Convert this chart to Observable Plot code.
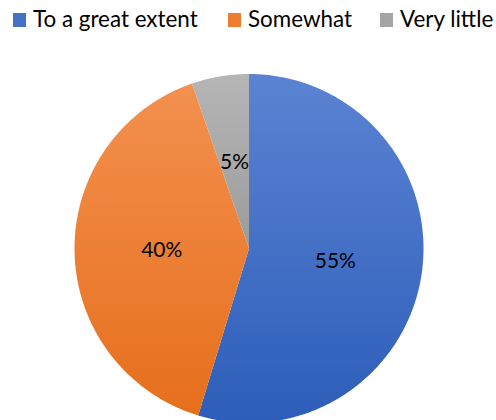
<!DOCTYPE html>
<html><head><meta charset="utf-8">
<script src="https://cdn.jsdelivr.net/npm/d3@7"></script>
<script src="https://cdn.jsdelivr.net/npm/@observablehq/plot@0.6"></script>
<style>
html,body{margin:0;padding:0;background:#fff;}
body{width:496px;height:420px;overflow:hidden;font-family:Lato,"Open Sans",sans-serif;}
#legend{position:relative;height:38px;width:496px;}
.sw{position:absolute;top:13px;width:13px;height:14px;}
.lt{position:absolute;top:8px;font-size:22.4px;line-height:22.4px;color:#000;white-space:nowrap;}
#chart svg{display:block;}
</style>
</head><body>
<div id="legend"></div>
<div id="chart"></div>
<script>
const categories = ["To a great extent", "Somewhat", "Very little"];
const values = [54.7, 40, 5.3];
const labels = ["55%", "40%", "5%"];

const topColors = ["#5b83d3", "#f3904f", "#b5b5b5"];
const bottomColors = ["#2d5db9", "#e66f1c", "#9c9c9c"];
const swatchColors = ["#4472c4", "#ed7d31", "#a5a5a5"];
const legendLeft = [13, 228, 380];

// legend
const legend = document.getElementById("legend");
categories.forEach((c, i) => {
  const s = document.createElement("div");
  s.className = "sw";
  s.style.left = legendLeft[i] + "px";
  s.style.background = swatchColors[i];
  legend.appendChild(s);
  const t = document.createElement("div");
  t.className = "lt";
  t.style.left = (legendLeft[i] + 20) + "px";
  t.textContent = c;
  legend.appendChild(t);
});

// slices as polygons in unit-circle data space (clockwise from top)
const total = d3.sum(values);
let acc = 0;
const slices = values.map((v, i) => {
  const a0 = acc / total * 2 * Math.PI;
  acc += v;
  const a1 = acc / total * 2 * Math.PI;
  const n = Math.max(2, Math.ceil((a1 - a0) / (Math.PI / 360)));
  const pts = [{x: 0, y: 0}];
  for (let k = 0; k <= n; k++) {
    const a = a0 + (a1 - a0) * k / n;
    pts.push({x: Math.sin(a), y: Math.cos(a)});
  }
  pts.push({x: 0, y: 0});
  const am = (a0 + a1) / 2;
  return {pts, label: {x: 0.5 * Math.sin(am), y: 0.5 * Math.cos(am), text: labels[i]}};
});

const chart = Plot.plot({
  width: 496,
  height: 382,
  margin: 0,
  x: {domain: [-1, 1], range: [74, 423], axis: null},
  y: {domain: [-1, 1], range: [384.5, 35.5], axis: null},
  marks: [
    ...slices.map((s, i) => Plot.line(s.pts, {x: "x", y: "y", fill: `url(#grad${i})`, stroke: "none"})),
    Plot.text(slices.map(s => s.label), {x: "x", y: "y", text: "text", fontSize: 21, fill: "#000", fontFamily: "Lato"})
  ]
});

const defs = d3.select(chart).insert("defs", ":first-child");
categories.forEach((c, i) => {
  const g = defs.append("linearGradient").attr("id", `grad${i}`)
    .attr("x1", 0).attr("y1", 0).attr("x2", 0).attr("y2", 1);
  g.append("stop").attr("offset", "0%").attr("stop-color", topColors[i]);
  g.append("stop").attr("offset", "100%").attr("stop-color", bottomColors[i]);
});

document.getElementById("chart").appendChild(chart);
</script>
</body></html>
